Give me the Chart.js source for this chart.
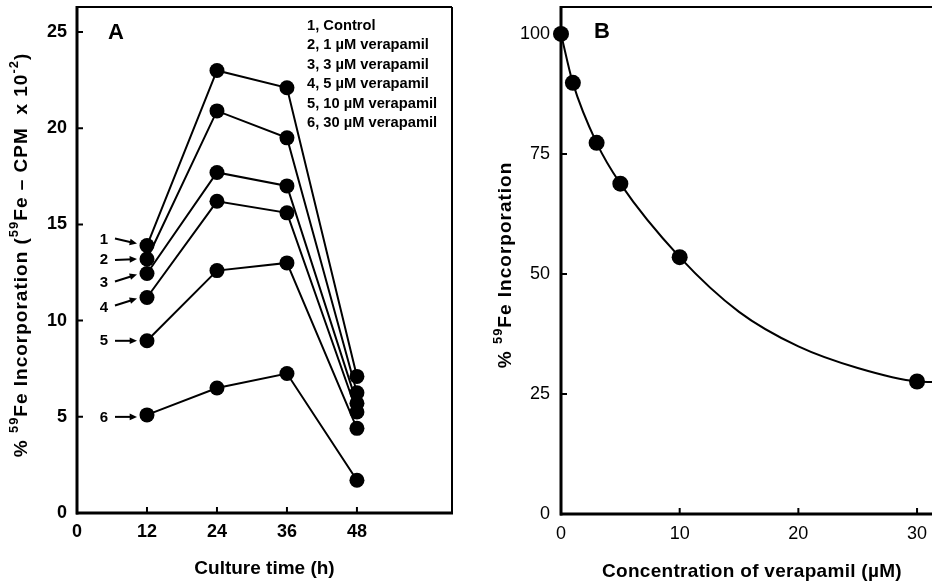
<!DOCTYPE html>
<html>
<head>
<meta charset="utf-8">
<script src="https://cdn.jsdelivr.net/npm/chart.js@4/dist/chart.umd.min.js"></script>
<style>
  body { margin: 0; background: #fff; }
  #wrap { position: relative; width: 932px; height: 584px; overflow: hidden; }
  canvas { position: absolute; top: 0; }
  #chartA { left: 0; }
  #chartB { left: 466px; }
</style>
</head>
<body>
<div id="wrap">
  <canvas id="chartA" width="470" height="584"></canvas>
  <canvas id="chartB" width="466" height="584"></canvas>
</div>
<script>
// panel A: culture time vs 59Fe counts
const cultureTime = [12, 24, 36, 48];
const seriesNames = ['1, Control', '2, 1 µM verapamil', '3, 3 µM verapamil',
                     '4, 5 µM verapamil', '5, 10 µM verapamil', '6, 30 µM verapamil'];
const control = [13.9, 23.0, 22.1, 7.1];
const vera1 = [13.2, 20.9, 19.5, 6.25];
const vera3 = [12.45, 17.7, 17.0, 5.7];
const vera5 = [11.2, 16.2, 15.6, 5.25];
const vera10 = [8.95, 12.6, 13.0, 4.4];
const vera30 = [5.1, 6.5, 7.25, 1.7];
const xTicksA = [0, 12, 24, 36, 48];
const yTicksA = [0, 5, 10, 15, 20, 25];

// panel B: concentration vs % incorporation
const concentration = [0, 1, 3, 5, 10, 30];
const incorporation = [100, 89.8, 77.3, 68.8, 53.5, 27.6];
const fitConc = [0, 1, 3, 5, 10, 15, 20, 25, 30, 31.3];
const fitValue = [100, 89.8, 77.3, 68.8, 53.5, 42.1, 34.9, 30.4, 27.6, 27.5];
const xTicksB = [0, 10, 20, 30];
const yTicksB = [0, 25, 50, 75, 100];

const FONT = "'Liberation Sans', Arial, Helvetica, sans-serif";

function pairs(xs, ys) {
  return xs.map((x, i) => ({ x: x, y: ys[i] }));
}

// text with superscripts, centred on (cx, cy), optionally rotated
function drawRich(ctx, parts, cx, cy, rotated, size, spacing) {
  ctx.save();
  ctx.translate(cx, cy);
  if (rotated) ctx.rotate(-Math.PI / 2);
  ctx.fillStyle = '#000';
  ctx.textBaseline = 'middle';
  ctx.textAlign = 'left';
  ctx.letterSpacing = (spacing || 0) + 'px';
  let total = 0;
  parts.forEach(p => {
    ctx.font = 'bold ' + (p.sup ? Math.round(size * 0.68) : size) + 'px ' + FONT;
    p.w = ctx.measureText(p.t).width;
    total += p.w;
  });
  let x = -total / 2;
  parts.forEach(p => {
    ctx.font = 'bold ' + (p.sup ? Math.round(size * 0.68) : size) + 'px ' + FONT;
    ctx.fillText(p.t, x, p.sup ? -size * 0.38 : 0);
    x += p.w;
  });
  ctx.restore();
}

function insideTicks(ctx, chart, len) {
  const a = chart.chartArea;
  const xs = chart.scales.x, ys = chart.scales.y;
  ctx.save();
  ctx.strokeStyle = '#000';
  ctx.lineWidth = 2;
  ctx.beginPath();
  xs.ticks.forEach(t => {
    const px = xs.getPixelForValue(t.value);
    ctx.moveTo(px, a.bottom);
    ctx.lineTo(px, a.bottom - len);
  });
  ys.ticks.forEach(t => {
    const py = ys.getPixelForValue(t.value);
    ctx.moveTo(a.left, py);
    ctx.lineTo(a.left + len, py);
  });
  ctx.stroke();
  ctx.restore();
}

function line(ctx, x1, y1, x2, y2, w) {
  ctx.lineWidth = w;
  ctx.beginPath();
  ctx.moveTo(x1, y1);
  ctx.lineTo(x2, y2);
  ctx.stroke();
}

function arrow(ctx, x1, y1, x2, y2) {
  ctx.lineWidth = 2;
  const ang = Math.atan2(y2 - y1, x2 - x1);
  ctx.beginPath();
  ctx.moveTo(x1, y1);
  ctx.lineTo(x2 - 4 * Math.cos(ang), y2 - 4 * Math.sin(ang));
  ctx.stroke();
  ctx.beginPath();
  ctx.moveTo(x2, y2);
  ctx.lineTo(x2 - 8 * Math.cos(ang - 0.42), y2 - 8 * Math.sin(ang - 0.42));
  ctx.lineTo(x2 - 8 * Math.cos(ang + 0.42), y2 - 8 * Math.sin(ang + 0.42));
  ctx.closePath();
  ctx.fill();
}

const panelA = {
  id: 'panelA',
  beforeDatasetsDraw(chart) {
    const ctx = chart.ctx, a = chart.chartArea;
    ctx.save();
    ctx.strokeStyle = '#000';
    line(ctx, a.left, a.top, a.right, a.top, 2);
    line(ctx, a.right, a.top, a.right, a.bottom, 2);
    line(ctx, a.left, a.top - 1, a.left, a.bottom + 1.5, 3);
    line(ctx, a.left - 1, a.bottom, a.right + 1, a.bottom, 3);
    ctx.restore();
    insideTicks(ctx, chart, 6);
  },
  afterDraw(chart) {
    const ctx = chart.ctx, a = chart.chartArea;
    ctx.save();
    ctx.fillStyle = '#000';
    ctx.strokeStyle = '#000';
    ctx.font = 'bold 22px ' + FONT;
    ctx.textBaseline = 'middle';
    ctx.textAlign = 'center';
    ctx.fillText('A', 116, 33);

    ctx.font = 'bold 14.7px ' + FONT;
    ctx.textAlign = 'left';
    seriesNames.forEach((n, i) => ctx.fillText(n, 307, 26 + i * 19.4));

    // numbered arrows pointing at the 12 h points
    const labelDy = [-6, 1, 9, 10, 0, 3];
    const tailDy = [-7, 1, 8, 8, 0, 2];
    const headDy = [-2, 0, 1, 1, 0, 2];
    ctx.font = 'bold 15px ' + FONT;
    ctx.textAlign = 'center';
    chart.data.datasets.forEach((ds, i) => {
      const p = chart.getDatasetMeta(i).data[0];
      ctx.fillText(String(i + 1), p.x - 43, p.y + labelDy[i]);
      arrow(ctx, p.x - 32, p.y + tailDy[i], p.x - 10, p.y + headDy[i]);
    });
    ctx.restore();

    drawRich(ctx, [{ t: 'Culture time (h)' }], (a.left + a.right) / 2, 569, false, 19, 0);
    drawRich(ctx, [
      { t: '% ' }, { t: '59', sup: true }, { t: 'Fe Incorporation (' },
      { t: '59', sup: true }, { t: 'Fe \u2013 CPM  x 10' }, { t: '-2', sup: true }, { t: ')' }
    ], 22, 255, true, 19, 1);
  }
};

const panelB = {
  id: 'panelB',
  beforeDatasetsDraw(chart) {
    const ctx = chart.ctx, a = chart.chartArea;
    ctx.save();
    ctx.strokeStyle = '#000';
    line(ctx, a.left, a.top, a.right, a.top, 2);
    line(ctx, a.left, a.top - 1, a.left, a.bottom + 1.5, 3);
    line(ctx, a.left - 1, a.bottom, a.right, a.bottom, 3);
    ctx.restore();
    insideTicks(ctx, chart, 6);
  },
  afterDraw(chart) {
    const ctx = chart.ctx;
    ctx.save();
    ctx.fillStyle = '#000';
    ctx.font = 'bold 22px ' + FONT;
    ctx.textBaseline = 'middle';
    ctx.textAlign = 'center';
    ctx.fillText('B', 136, 32);
    ctx.restore();
    drawRich(ctx, [{ t: 'Concentration of verapamil (\u00b5M)' }], 286, 572, false, 19, 0.3);
    drawRich(ctx, [{ t: '% ' }, { t: '59', sup: true }, { t: 'Fe Incorporation' }], 40, 265, true, 19, 1);
  }
};

function fixedTicks(list) {
  return scale => { scale.ticks = list.map(v => ({ value: v })); };
}

function fitTo(prop, size) {
  return scale => {
    scale[prop] = size;
    scale.paddingTop = 0;
    scale.paddingBottom = 0;
    scale.paddingLeft = 0;
    scale.paddingRight = 0;
  };
}

const seriesA = [control, vera1, vera3, vera5, vera10, vera30];

new Chart(document.getElementById('chartA').getContext('2d'), {
  type: 'line',
  data: {
    datasets: seriesA.map((vals, i) => ({
      label: seriesNames[i],
      data: pairs(cultureTime, vals),
      borderColor: '#000',
      borderWidth: 2,
      backgroundColor: '#000',
      pointBackgroundColor: '#000',
      pointBorderWidth: 0,
      pointRadius: 7.5,
      tension: 0,
      clip: false
    }))
  },
  options: {
    responsive: false,
    animation: false,
    layout: { autoPadding: false, padding: { top: 7, right: 18, left: 0, bottom: 0 } },
    plugins: { legend: { display: false }, tooltip: { enabled: false } },
    scales: {
      x: {
        type: 'linear', min: 0, max: 64.3,
        afterBuildTicks: fixedTicks(xTicksA),
        afterFit: fitTo('height', 71),
        grid: { display: false, drawTicks: false },
        border: { display: false },
        ticks: { padding: 8, color: '#000', font: { family: FONT, size: 18, weight: 'bold' } }
      },
      y: {
        min: 0, max: 26.3,
        afterBuildTicks: fixedTicks(yTicksA),
        afterFit: fitTo('width', 77),
        grid: { display: false, drawTicks: false },
        border: { display: false },
        ticks: { padding: 10, color: '#000', font: { family: FONT, size: 18, weight: 'bold' } }
      }
    }
  },
  plugins: [panelA]
});

new Chart(document.getElementById('chartB').getContext('2d'), {
  type: 'line',
  data: {
    datasets: [
      {
        label: 'fit',
        data: pairs(fitConc, fitValue),
        borderColor: '#000',
        borderWidth: 2,
        pointRadius: 0,
        cubicInterpolationMode: 'monotone'
      },
      {
        label: 'measured',
        data: pairs(concentration, incorporation),
        showLine: false,
        pointBackgroundColor: '#000',
        pointBorderWidth: 0,
        pointRadius: 8,
        clip: false
      }
    ]
  },
  options: {
    responsive: false,
    animation: false,
    layout: { autoPadding: false, padding: { top: 7, right: 0, left: 0, bottom: 0 } },
    plugins: { legend: { display: false }, tooltip: { enabled: false } },
    scales: {
      x: {
        type: 'linear', min: 0, max: 31.26,
        afterBuildTicks: fixedTicks(xTicksB),
        afterFit: fitTo('height', 70),
        grid: { display: false, drawTicks: false },
        border: { display: false },
        ticks: { padding: 9, color: '#000', font: { family: FONT, size: 18 } }
      },
      y: {
        min: 0, max: 105.6,
        afterBuildTicks: fixedTicks(yTicksB),
        afterFit: fitTo('width', 95),
        grid: { display: false, drawTicks: false },
        border: { display: false },
        ticks: { padding: 11, color: '#000', font: { family: FONT, size: 18 } }
      }
    }
  },
  plugins: [panelB]
});
</script>
</body>
</html>
